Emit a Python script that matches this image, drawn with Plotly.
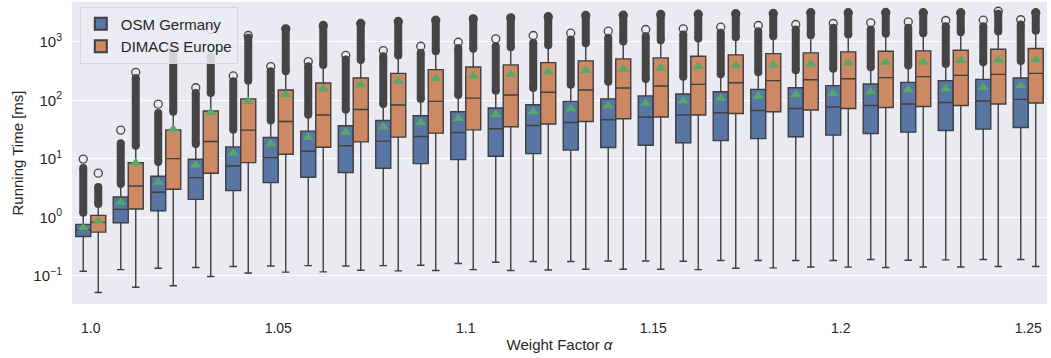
import plotly.graph_objects as go

alphas = ["1.0", "1.01", "1.02", "1.03", "1.04", "1.05", "1.06", "1.07", "1.08", "1.09",
          "1.1", "1.11", "1.12", "1.13", "1.14", "1.15", "1.16", "1.17", "1.18", "1.19",
          "1.2", "1.21", "1.22", "1.23", "1.24", "1.25"]
tick_labels = ["1.0", "1.05", "1.1", "1.15", "1.2", "1.25"]

# OSM Germany
osm_q1 = [0.47, 0.81, 1.30, 2.03, 2.86, 3.92, 4.85, 5.81, 6.92, 8.3, 9.7, 11.1, 12.3, 14.1, 15.6, 17.1,
          18.8, 20.5, 22.2, 23.8, 25.4, 27.1, 28.6, 30.5, 32.2, 34.3]
osm_med = [0.61, 1.37, 2.68, 4.77, 7.57, 10.5, 13.5, 16.7, 20.1, 24.1, 28.2, 32.6, 37.1, 41.8, 46.5, 51.8,
           56, 61.3, 67.1, 72.6, 76.7, 81.8, 86.4, 92, 97.3, 104]
osm_q3 = [0.76, 2.23, 5.04, 9.86, 16.0, 23.1, 29.8, 36.7, 45.2, 54.5, 63.8, 73.8, 84, 95.8, 106, 119,
          128, 140, 154, 164, 178, 190, 203, 217, 228, 241]
osm_lo = [0.12, 0.128, 0.135, 0.139, 0.145, 0.148, 0.150, 0.148, 0.150, 0.152, 0.163, 0.171, 0.176, 0.176,
          0.180, 0.180, 0.178, 0.183, 0.183, 0.183, 0.183, 0.191, 0.185, 0.188, 0.191, 0.191]
osm_hi = [1.2, 3.72, 8.8, 18.0, 31.3, 45.2, 56.6, 69, 86.4, 105, 123, 146, 162, 185, 208, 232,
          254, 278, 301, 325, 348, 366, 392, 419, 446, 472]
osm_dense = [7.0, 18.5, 60.6, 133, 211, 313, 381, 497, 565, 647, 787, 839, 959, 1094, 1169, 1245,
             1331, 1422, 1517, 1622, 1734, 1622, 1734, 1849, 1849, 1976]
osm_max = [9.9, 31, 86, 164, 261, 377, 459, 588, 708, 839, 982, 1123, 1280, 1402, 1517, 1622,
           1667, 1775, 1899, 1976, 2055, 2113, 2198, 2312, 2340, 2379]
osm_mean = [0.66, 1.81, 3.98, 7.87, 12.5, 18.0, 23.1, 28.6, 34.9, 41.3, 49, 57.3, 63.8, 71.8, 80.8, 88.5,
            98.4, 108, 117, 125, 131, 140, 150, 158, 166, 178]

# DIMACS Europe
dim_q1 = [0.56, 1.39, 3.02, 5.68, 8.63, 12.0, 15.8, 19.5, 23.5, 27.5, 31.3, 35.3, 39.3, 43.5, 48.4, 51.8,
          56, 59.6, 63.8, 68.2, 72.6, 75.6, 78.6, 81.8, 86.4, 89.9]
dim_med = [0.82, 3.44, 10.1, 19.8, 31, 43.5, 56, 69.8, 83, 95.8, 109, 123, 137, 150, 162, 176,
           187, 200, 217, 225, 234, 244, 254, 267, 278, 289]
dim_q3 = [1.08, 8.6, 31.3, 65.6, 106, 150, 198, 241, 289, 334, 372, 403, 441, 472, 510, 531,
          565, 598, 629, 647, 673, 689, 700, 716, 745, 766]
dim_lo = [0.052, 0.064, 0.068, 0.0975, 0.112, 0.116, 0.117, 0.125, 0.122, 0.124, 0.128, 0.124, 0.126,
          0.130, 0.130, 0.130, 0.128, 0.135, 0.137, 0.142, 0.141, 0.139, 0.142, 0.142, 0.145, 0.145]
dim_hi = [1.69, 16.7, 63.8, 133, 217, 313, 403, 491, 581, 689, 757, 807, 873, 944, 1010, 1064,
          1137, 1197, 1245, 1295, 1331, 1368, 1402, 1459, 1500, 1542]
dim_dense = [3.3, 241, 647, 559, 1169, 1667, 1899, 2055, 2223, 2340, 2472, 2570, 2677, 2818, 2850, 2930,
             2965, 3013, 3050, 3133, 3133, 3170, 3133, 3133, 3013, 3133]
dim_max = [5.7, 301, 736, 1622, 1280, 1667, 1899, 2055, 2223, 2340, 2472, 2570, 2677, 2818, 2850, 2930,
           2965, 3013, 3050, 3133, 3133, 3170, 3133, 3133, 3327, 3133]
dim_mean = [0.87, 8.5, 32.2, 62, 95.7, 126, 156, 185, 211, 237, 261, 278, 305, 322, 339, 352,
            377, 392, 403, 419, 436, 446, 453, 477, 491, 497]

BG = "#EAEAF2"
EDGE = "#3f3f3f"
FONT = "Arial, Liberation Sans, sans-serif"

series = [
    ("OSM Germany", "#5875A4", -0.2, osm_q1, osm_med, osm_q3, osm_lo, osm_hi, osm_dense, osm_max, osm_mean),
    ("DIMACS Europe", "#CC8963", 0.2, dim_q1, dim_med, dim_q3, dim_lo, dim_hi, dim_dense, dim_max, dim_mean),
]

fig = go.Figure()
idx = list(range(len(alphas)))

for name, color, off, q1, med, q3, lo, hi, dense, mx, mean in series:
    xs = [i + off for i in idx]
    fig.add_trace(go.Box(
        name=name, x=xs, q1=q1, median=med, q3=q3, lowerfence=lo, upperfence=hi,
        width=0.4, whiskerwidth=0.5, boxpoints=False,
        fillcolor=color, line=dict(color=EDGE, width=1.4),
        showlegend=True, hoverinfo="skip",
    ))

for name, color, off, q1, med, q3, lo, hi, dense, mx, mean in series:
    xs = [i + off for i in idx]
    lx, ly = [], []
    for x, a, b in zip(xs, hi, dense):
        lx += [x, x, None]
        ly += [a, b, None]
    fig.add_trace(go.Scatter(
        x=lx, y=ly, mode="lines+markers",
        line=dict(color="#454545", width=8),
        marker=dict(symbol="circle", size=8, color="#454545", line=dict(width=0)),
        showlegend=False, hoverinfo="skip",
    ))
    fig.add_trace(go.Scatter(
        x=xs, y=mx, mode="markers",
        marker=dict(symbol="circle-open", size=8, color="#454545", line=dict(width=1.3)),
        showlegend=False, hoverinfo="skip",
    ))

for name, color, off, q1, med, q3, lo, hi, dense, mx, mean in series:
    xs = [i + off for i in idx]
    fig.add_trace(go.Scatter(
        x=xs, y=mean, mode="markers",
        marker=dict(symbol="triangle-up", size=10, color="#55A868", line=dict(width=0)),
        showlegend=False, hoverinfo="skip",
    ))

fig.update_layout(
    width=1051, height=358,
    margin=dict(l=72, r=4, t=2, b=54),
    paper_bgcolor="white", plot_bgcolor=BG,
    font=dict(family=FONT, size=14, color="#262626"),
    boxmode="overlay",
    legend=dict(
        x=0.008, y=0.985, xanchor="left", yanchor="top",
        bgcolor="rgba(236,236,244,0.85)", bordercolor="#d5d5dd", borderwidth=1,
        font=dict(size=15, color="#262626"), itemsizing="constant",
        tracegroupgap=0,
    ),
    xaxis=dict(
        range=[-0.5, 25.5], tickmode="array",
        tickvals=[alphas.index(t) for t in tick_labels],
        ticktext=tick_labels, showgrid=False, zeroline=False, showline=False,
        ticks="outside", ticklen=11, tickcolor="rgba(0,0,0,0)", tickfont=dict(size=14),
        title=dict(text="Weight Factor <i>α</i>", font=dict(size=15), standoff=4),
    ),
    yaxis=dict(
        type="log", range=[-1.48, 3.68],
        tickmode="array", tickvals=[0.1, 1, 10, 100, 1000],
        ticktext=["10<sup>−1</sup>", "10<sup>0</sup>", "10<sup>1</sup>", "10<sup>2</sup>", "10<sup>3</sup>"],
        showgrid=True, gridcolor="white", gridwidth=1.2, zeroline=False, showline=False,
        ticks="outside", ticklen=6, tickcolor="rgba(0,0,0,0)", tickfont=dict(size=15),
        title=dict(text="Running Time [ms]", font=dict(size=15), standoff=6),
    ),
)

fig.write_html("out.html")
